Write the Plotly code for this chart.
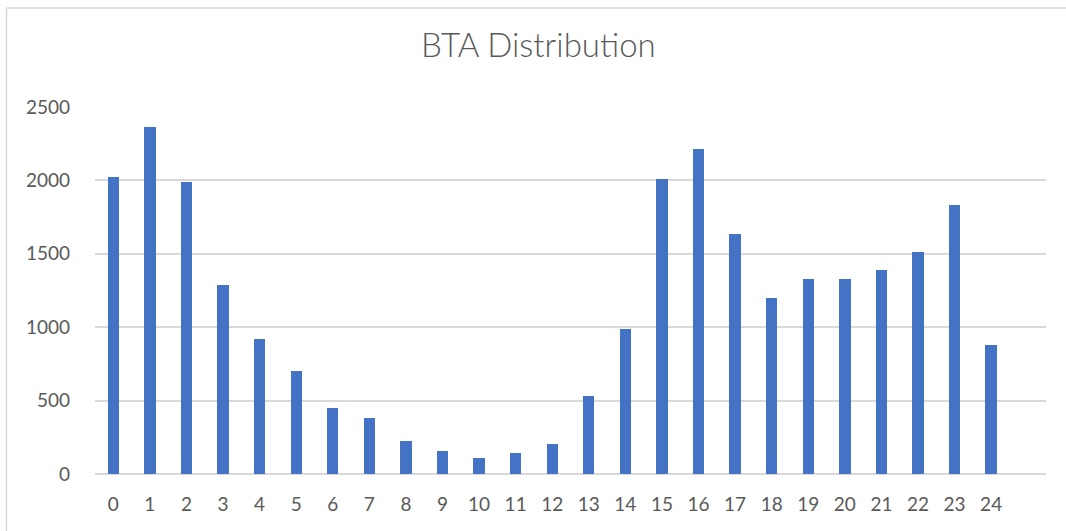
import plotly.graph_objects as go

hours = [str(h) for h in range(25)]
counts = [2024, 2364, 1987, 1286, 919, 701, 449, 379, 222, 157, 109, 143, 204,
          533, 989, 2008, 2214, 1633, 1202, 1329, 1329, 1388, 1515, 1835, 878]
y_ticks = [0, 500, 1000, 1500, 2000, 2500]
title_text = "BTA Distribution"

fig = go.Figure()
fig.add_trace(go.Bar(
    x=list(range(25)), y=counts,
    marker=dict(color="#4472C4", line=dict(width=0)),
    width=0.31,
))

font_family = "Lato, 'Open Sans', sans-serif"
fig.update_layout(
    width=1066, height=531,
    paper_bgcolor="white", plot_bgcolor="white",
    margin=dict(l=95, r=20, t=107, b=57),
    showlegend=False,
    title=dict(text=title_text, x=0.505, xanchor="center", y=1 - 45 / 531, yanchor="middle",
               font=dict(family=font_family, size=33, color="#595959", weight=300)),
    font=dict(family=font_family, color="#595959"),
    bargap=0,
)
fig.update_xaxes(
    range=[-0.5, 25.5],
    tickmode="array", tickvals=list(range(25)), ticktext=hours,
    tickfont=dict(size=19, color="#595959"),
    showgrid=False, zeroline=False, showline=False,
    ticks="", ticklabelstandoff=17,
)
fig.update_yaxes(
    range=[0, 2500],
    tickmode="array", tickvals=y_ticks, ticktext=[str(v) for v in y_ticks],
    tickfont=dict(size=19, color="#595959"),
    showgrid=True, gridcolor="#d9d9d9", gridwidth=1.5,
    zeroline=True, zerolinecolor="#d9d9d9", zerolinewidth=1.5,
    showline=False, ticks="", ticklabelstandoff=24,
)
# chart frame (top and left edges visible)
fig.add_shape(type="line", xref="paper", yref="paper",
              x0=-0.0931, x1=1.03, y0=1.270, y1=1.270,
              line=dict(color="#d9d9d9", width=1.5))
fig.add_shape(type="line", xref="paper", yref="paper",
              x0=-0.0931, x1=-0.0931, y0=1.270, y1=-0.2,
              line=dict(color="#d9d9d9", width=1.5))

fig.write_html("out.html", config={"displayModeBar": False},
               post_script="document.body.style.margin='0';")
